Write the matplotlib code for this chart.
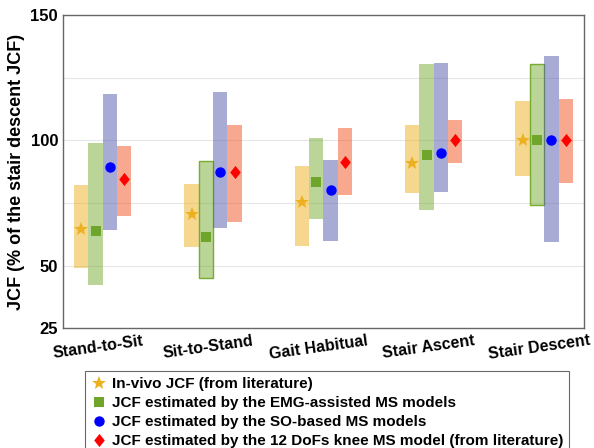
import numpy as np
import matplotlib
matplotlib.use("Agg")
import matplotlib.pyplot as plt
from matplotlib.transforms import ScaledTranslation

plt.rcParams['font.family'] = ['Liberation Sans', 'DejaVu Sans']
plt.rcParams['font.weight'] = 'bold'

# data (% of stair descent JCF)
tasks = ['Stand-to-Sit', 'Sit-to-Stand', 'Gait Habitual', 'Stair Ascent', 'Stair Descent']

invivo_mean = [64.6, 70.7, 75.6, 91.1, 100]
invivo_low = [49.1, 57.3, 58.0, 78.9, 85.9]
invivo_high = [82.2, 82.6, 89.8, 106.0, 115.6]

emg_mean = [63.8, 61.4, 83.3, 94.4, 100]
emg_low = [42.2, 45.1, 68.8, 72.2, 74.3]
emg_high = [98.8, 92.0, 100.8, 130.7, 130.7]

so_mean = [89.5, 87.5, 80.1, 94.9, 100]
so_low = [64.4, 65.0, 59.7, 79.3, 59.3]
so_high = [118.5, 119.3, 92.2, 130.9, 133.7]

dof_mean = [84.5, 87.3, 91.6, 100, 100]
dof_low = [69.9, 67.6, 78.1, 91.1, 83.1]
dof_high = [98.0, 106.2, 104.9, 108.1, 116.4]

labels = ['In-vivo JCF (from literature)',
          'JCF estimated by the EMG-assisted MS models',
          'JCF estimated by the SO-based MS models',
          'JCF estimated by the 12 DoFs knee MS model (from literature)']

# thin diamond used for the 12 DoFs model
diamond = [(0, 1), (0.8, 0), (0, -1), (-0.8, 0), (0, 1)]

series = [
    (invivo_mean, invivo_low, invivo_high, '#EDB120', '#EDB120', '*', 10),
    (emg_mean, emg_low, emg_high, '#77AC30', '#6FA52A', 's', 7),
    (so_mean, so_low, so_high, '#535BAD', '#0000FF', 'o', 7.5),
    (dof_mean, dof_low, dof_high, '#F3531F', '#FF0000', diamond, 9.5),
]

fig = plt.figure(figsize=(5.94, 4.48), dpi=100)
ax = fig.add_axes([0.106, 0.267, 0.877, 0.699])

x = np.arange(1, len(tasks) + 1)
w = 0.13
offsets = [-1.5, -0.5, 0.5, 1.5]

handles = []
for k, (m, lo, hi, bc, mc, mk, ms) in enumerate(series):
    lo = np.array(lo)
    hi = np.array(hi)
    xs = x + offsets[k] * w
    bars = ax.bar(xs, hi - lo, bottom=lo, width=w, color=bc, alpha=0.5,
                  linewidth=0, zorder=2)
    if k == 1:
        # two of the EMG boxes have an outline in the original
        for j in [1, 4]:
            bars[j].set_edgecolor('#77AC30')
            bars[j].set_linewidth(1.0)
            bars[j].set_alpha(None)
            bars[j].set_facecolor((0.466, 0.674, 0.188, 0.5))
    h, = ax.plot(xs, m, linestyle='none', marker=mk, markersize=ms,
                 color=mc, markeredgewidth=0, zorder=3, label=labels[k])
    handles.append(h)

ax.set_xlim(0.64, 5.36)
ax.set_ylim(25, 150)
ax.set_yticks([25, 50, 100, 150])
ax.set_yticks([75, 125], minor=True)
ax.grid(True, axis='y', which='both', color='#E6E6E6', linewidth=0.8, zorder=0)
ax.set_axisbelow(True)
ax.tick_params(axis='both', which='both', length=0, labelsize=12)
ax.set_xticks(x)
ax.set_xticklabels(tasks, rotation=8, ha='center', fontweight='bold', fontsize=11.5)
shift = ScaledTranslation(-5 / 100, 0, fig.dpi_scale_trans)
for t in ax.get_xticklabels():
    t.set_transform(t.get_transform() + shift)
for t in ax.get_yticklabels():
    t.set_fontweight('bold')
ax.set_ylabel('JCF (% of the stair descent JCF)', fontsize=13, fontweight='bold', labelpad=4)

for s in ax.spines.values():
    s.set_color('#666666')
    s.set_linewidth(1.0)

leg = fig.legend(handles=handles, loc='upper center',
                 bbox_to_anchor=(0.5505, 0.172), bbox_transform=fig.transFigure,
                 borderaxespad=0, frameon=True, fancybox=False,
                 prop={'size': 11, 'weight': 'bold'}, handlelength=1.1,
                 handletextpad=0.3, labelspacing=0.33, borderpad=0.4)
leg.get_frame().set_edgecolor('#444444')
leg.get_frame().set_linewidth(0.8)

fig.savefig('out.png', dpi=100)
